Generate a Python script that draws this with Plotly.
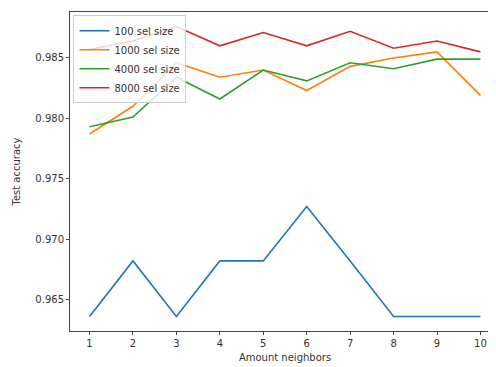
import plotly.graph_objects as go

neighbors = [1, 2, 3, 4, 5, 6, 7, 8, 9, 10]
acc_100 = [0.9636, 0.9682, 0.9636, 0.9682, 0.9682, 0.9727, 0.9682, 0.9636, 0.9636, 0.9636]
acc_1000 = [0.9787, 0.9810, 0.9846, 0.9834, 0.9840, 0.9823, 0.9843, 0.9850, 0.9855, 0.9819]
acc_4000 = [0.9793, 0.9801, 0.9834, 0.9816, 0.9840, 0.9831, 0.9846, 0.9841, 0.9849, 0.9849]
acc_8000 = [0.9857, 0.9864, 0.9876, 0.9860, 0.9871, 0.9860, 0.9872, 0.9858, 0.9864, 0.9855]
series_names = ["100 sel size", "1000 sel size", "4000 sel size", "8000 sel size"]
colors = ["#1f77b4", "#ff7f0e", "#2ca02c", "#d62728"]
y_ticks = [0.965, 0.970, 0.975, 0.980, 0.985]

fig = go.Figure()
for name, ys, c in zip(series_names, [acc_100, acc_1000, acc_4000, acc_8000], colors):
    fig.add_trace(go.Scatter(x=neighbors, y=ys, mode="lines", name=name,
                             line=dict(color=c, width=1.6)))

font = dict(family="DejaVu Sans", size=10, color="#333")
axis_common = dict(showline=True, mirror=True, linecolor="#444", linewidth=1,
                   ticks="outside", ticklen=3, tickcolor="#444", showgrid=False,
                   zeroline=False, tickfont=font)
fig.update_layout(
    width=492, height=359,
    margin=dict(l=62, r=0, t=4, b=36, autoexpand=False),
    paper_bgcolor="white", plot_bgcolor="white",
    font=font,
    xaxis=dict(range=[0.55, 10.45], tickvals=neighbors,
               title=dict(text="Amount neighbors", font=font, standoff=5), **axis_common),
    yaxis=dict(range=[0.9624, 0.9888], tickvals=y_ticks, tickformat=".3f",
               title=dict(text="Test accuracy", font=font, standoff=12), **axis_common),
    legend=dict(x=0.008, y=0.99, xanchor="left", yanchor="top",
                bgcolor="rgba(255,255,255,0.8)", bordercolor="#ccc", borderwidth=1,
                font=dict(family="DejaVu Sans", size=10, color="#333"),
                tracegroupgap=0, itemwidth=30),
    showlegend=True,
)
fig.write_html("out.html")
